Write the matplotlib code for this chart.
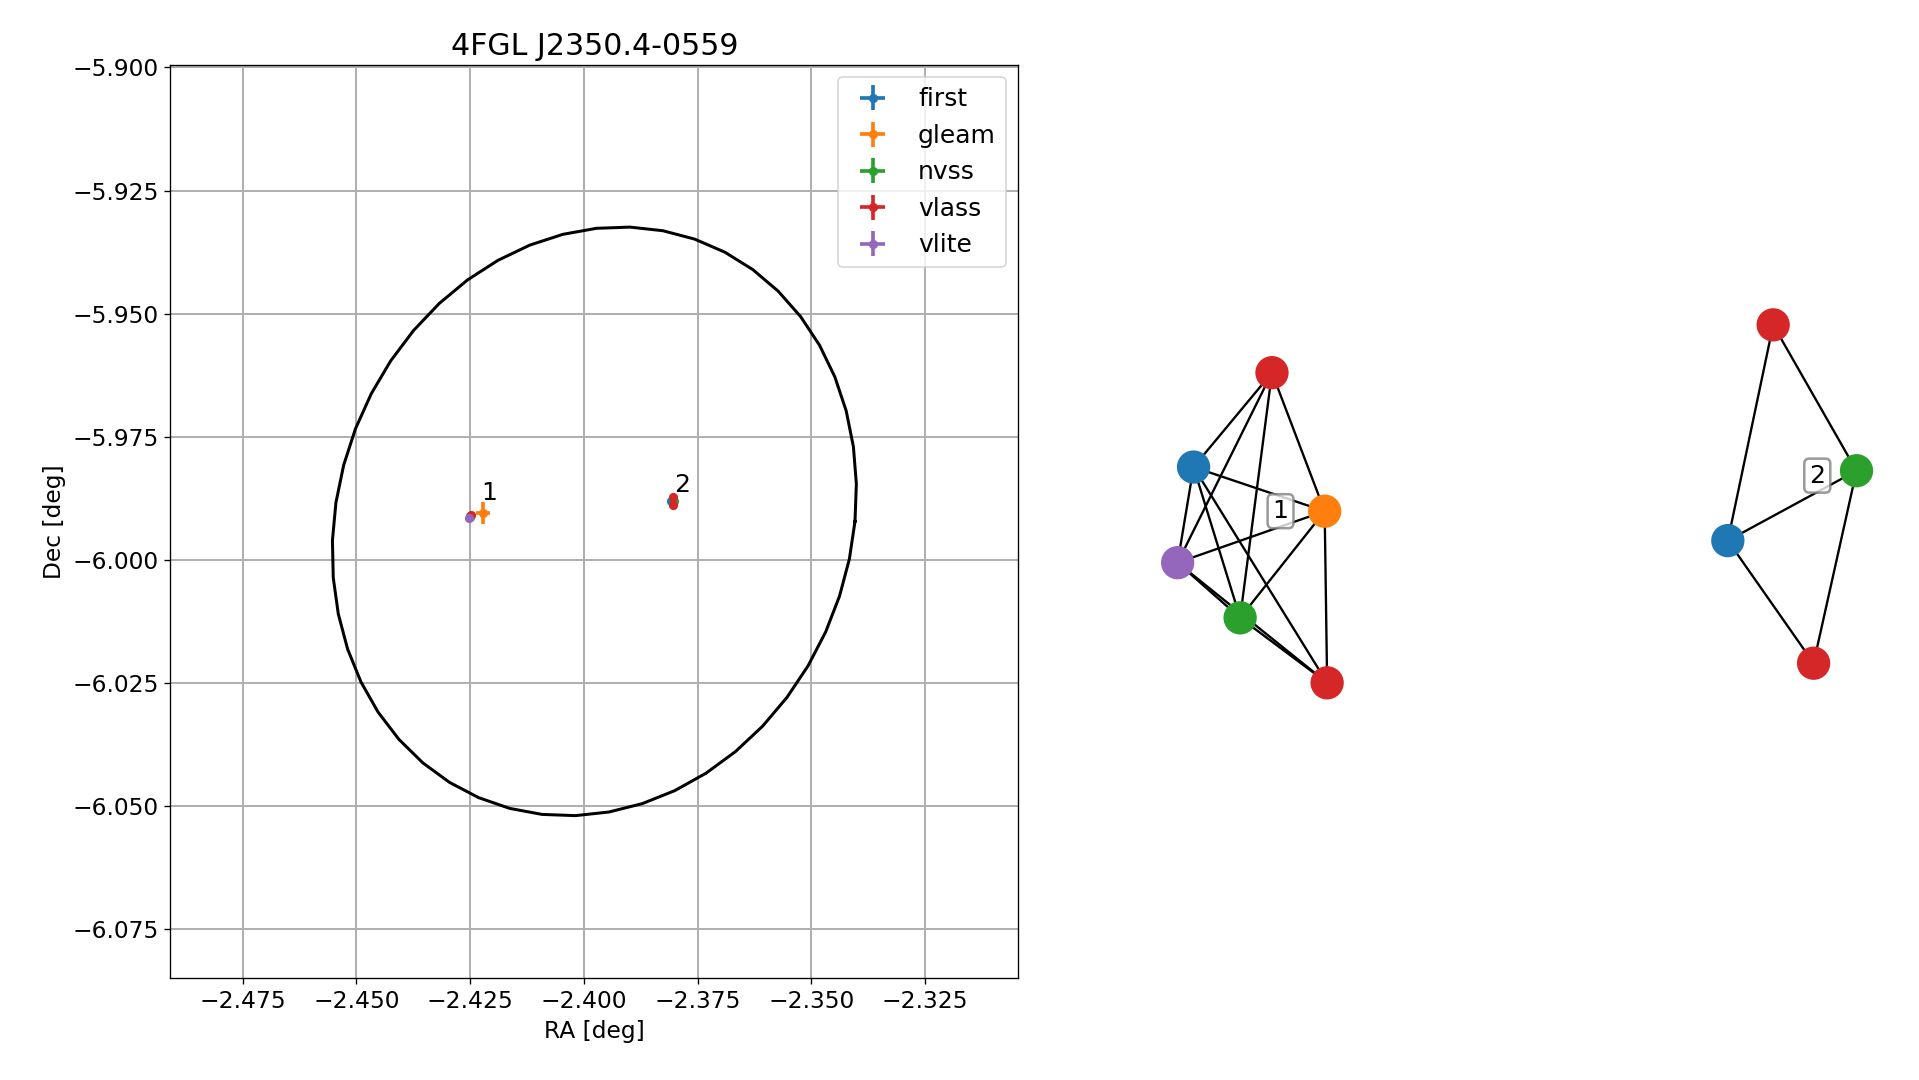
import numpy as np
import matplotlib
matplotlib.use("Agg")
import matplotlib.pyplot as plt

title = "4FGL J2350.4-0559"
surveys = ["first", "gleam", "nvss", "vlass", "vlite"]
colors = ["#1f77b4", "#ff7f0e", "#2ca02c", "#d62728", "#9467bd"]
# sources: survey, ra, dec, ra_err, dec_err
src_survey = ["first", "gleam", "nvss", "vlass", "vlite", "first", "nvss", "vlass", "vlass"]
src_ra = [-2.4250, -2.4222, -2.4251, -2.4248, -2.4253, -2.3808, -2.3802, -2.3805, -2.3805]
src_dec = [-5.9912, -5.9905, -5.9913, -5.9910, -5.9915, -5.9880, -5.9880, -5.9873, -5.9888]
src_raerr = [0.0002, 0.0015, 0.0003, 0.0001, 0.0003, 0.0002, 0.0003, 0.0001, 0.0001]
src_decerr = [0.0002, 0.0023, 0.0003, 0.0001, 0.0003, 0.0002, 0.0003, 0.0001, 0.0001]
labels_txt = ["1", "2"]
label_ra = [-2.4225, -2.3802]
label_dec = [-5.9878, -5.9862]
ell_c = (-2.3977, -5.9922)
ell_a, ell_b, ell_s = 0.0573, 0.0598, 0.0060

# network graphs (layout positions)
g_colors = ["#d62728", "#1f77b4", "#ff7f0e", "#9467bd", "#2ca02c", "#d62728",
            "#d62728", "#2ca02c", "#1f77b4", "#d62728"]
g_x = [1038, 974, 1081, 961, 1012, 1083, 1447, 1515, 1410, 1480]
g_y = [304, 381, 417, 459, 504, 557, 265, 384, 441, 541]
edges = [(0,1),(0,2),(0,3),(0,4),(1,2),(1,3),(1,4),(1,5),(2,3),(2,4),(2,5),(3,4),(3,5),(4,5),
         (6,7),(6,8),(7,8),(8,9),(7,9)]
g_labels = ["1", "2"]
g_lx = [1045, 1483]
g_ly = [417, 388]

W, H = 1566, 881
fig = plt.figure(figsize=(1919/120, 1080/120), dpi=120)
ax = fig.add_axes([139/W, 1-798/H, (831-139)/W, (798-53)/H])
t = np.linspace(0, 2*np.pi, 50)
ax.plot(ell_c[0] + ell_a*np.cos(t) + ell_s*np.sin(t), ell_c[1] + ell_b*np.sin(t), color="black", lw=1.8)
for s, c in zip(surveys, colors):
    idx = [i for i, v in enumerate(src_survey) if v == s]
    ax.errorbar([src_ra[i] for i in idx], [src_dec[i] for i in idx],
                xerr=[src_raerr[i] for i in idx], yerr=[src_decerr[i] for i in idx],
                fmt="o", ms=4.5, color=c, label=s, lw=2.2)
for tx, x, y in zip(labels_txt, label_ra, label_dec):
    ax.text(x, y, tx, fontsize=15)
ax.set_xlim(-2.4909, -2.3045)
ax.set_ylim(-6.085, -5.8995)
ax.set_xticks(np.arange(-2.475, -2.32, 0.025))
ax.set_yticks(np.arange(-6.075, -5.89, 0.025))
ax.grid(True, color="#b0b0b0", lw=1.2)
ax.set_axisbelow(True)
ax.set_xlabel("RA [deg]", fontsize=14)
ax.set_ylabel("Dec [deg]", fontsize=14)
ax.set_title(title, fontsize=18)
ax.tick_params(labelsize=14)
ax.legend(loc="upper right", fontsize=15)

ax2 = fig.add_axes([0, 0, 1, 1])
ax2.set_xlim(0, W)
ax2.set_ylim(H, 0)
ax2.axis("off")
for a, b in edges:
    ax2.plot([g_x[a], g_x[b]], [g_y[a], g_y[b]], color="black", lw=1.4, zorder=1)
ax2.scatter(g_x, g_y, s=360, c=g_colors, zorder=2)
for tx, x, y in zip(g_labels, g_lx, g_ly):
    ax2.text(x, y, tx, fontsize=15, ha="center", va="center", zorder=3,
             bbox=dict(boxstyle="round,pad=0.2", fc="white", ec="gray", lw=1.5, alpha=0.8))
fig.savefig("out.png", dpi=120)
